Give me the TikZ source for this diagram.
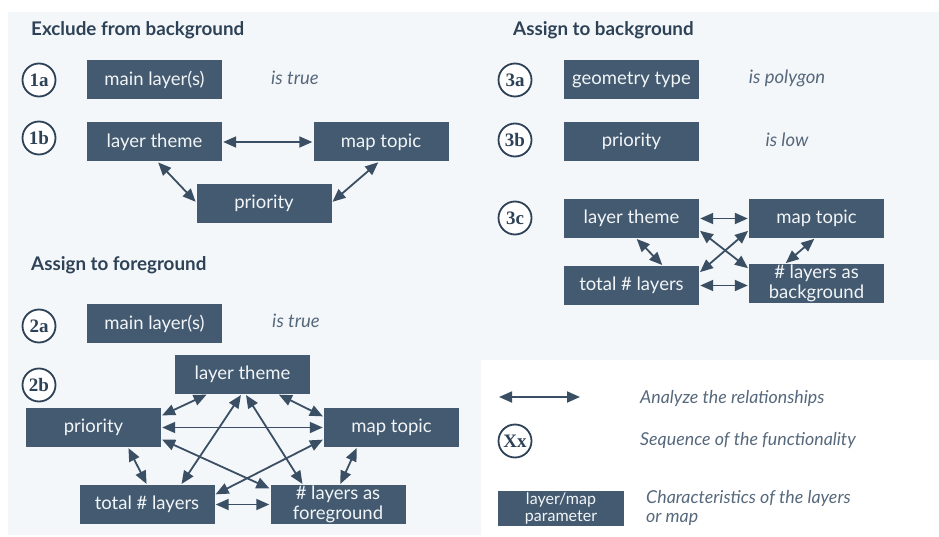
\documentclass[tikz,border=0pt]{standalone}
\usepackage{fontspec}
\setmainfont{Lato}
\newfontfamily\numfont{Liberation Serif}
\usetikzlibrary{arrows.meta,calc}

\definecolor{panel}{HTML}{F4F7F9}
\definecolor{boxfill}{HTML}{435A70}
\definecolor{boxtext}{HTML}{F2F5F7}
\definecolor{linkcol}{HTML}{3A4F63}
\definecolor{headcol}{HTML}{2E4257}
\definecolor{notecol}{HTML}{56687B}

\tikzset{
  pbox/.style={fill=boxfill, text=boxtext, minimum width=135pt, minimum height=39pt,
    inner sep=0pt, font=\fontsize{18.5}{20}\selectfont},
  twoline/.style={align=center, font=\fontsize{18.5}{21}\selectfont},
  stepnum/.style={circle, draw=headcol, line width=1.8pt, fill=white, text=headcol,
    minimum size=33pt, inner sep=0pt, font=\numfont\bfseries\fontsize{19}{20}\selectfont},
  heading/.style={anchor=west, text=headcol, inner sep=0pt,
    font=\bfseries\fontsize{18.8}{20}\selectfont},
  cond/.style={text=notecol, inner sep=0pt, font=\itshape\fontsize{18.5}{20}\selectfont},
  legtext/.style={anchor=west, text=notecol, inner sep=0pt, align=left,
    font=\itshape\fontsize{17.8}{20}\selectfont},
  link/.style={draw=linkcol, line width=1.8pt,
    {Triangle[length=13pt,width=11pt]}-{Triangle[length=13pt,width=11pt]},
    shorten <=1pt, shorten >=1pt},
}

\begin{document}
\begin{tikzpicture}[x=1pt,y=-1pt]
  \useasboundingbox (0,0) rectangle (939,537);
  % light panel behind the three groups, legend corner left white
  \fill[panel] (8,12) -- (939,12) -- (939,360) -- (481,360) -- (481,535) -- (8,535) -- cycle;

  % ---------- Exclude from background ----------
  \node[heading] (h1) at (31,30) {Exclude from background};
  \node[stepnum] (s1a) at (39,80) {1a};
  \node[pbox] (m1) at (154.5,79.5) {main layer(s)};
  \node[cond] (c1a) at (295,78) {is true};
  \node[stepnum] (s1b) at (39,138) {1b};
  \node[pbox] (lt1) at (154.5,142) {layer theme};
  \node[pbox] (mt1) at (381,142) {map topic};
  \node[pbox] (pr1) at (264,203.5) {priority};
  \draw[link] (lt1.east) -- (mt1.west);
  \draw[link] ([xshift=3pt]lt1.south) -- ([yshift=1pt]pr1.west);
  \draw[link] ([xshift=-2pt]mt1.south) -- ([yshift=1pt]pr1.east);

  % ---------- Assign to background ----------
  \node[heading] (h3) at (513,30) {Assign to background};
  \node[stepnum] (s3a) at (515,80) {3a};
  \node[pbox] (g3) at (631.5,79.5) {geometry type};
  \node[cond] (c3a) at (787,78) {is polygon};
  \node[stepnum] (s3b) at (515,140) {3b};
  \node[pbox] (p3) at (631.5,141.5) {priority};
  \node[cond] (c3b) at (787,140) {is low};
  \node[stepnum] (s3c) at (515,218) {3c};
  \node[pbox] (lt3) at (631.5,218.5) {layer theme};
  \node[pbox] (mt3) at (816.5,218.5) {map topic};
  \node[pbox] (tot3) at (631.5,285.5) {total \# layers};
  \node[pbox, twoline] (bg3) at (816.5,283.5) {\# layers as\\[-1pt]background};
  \draw[link] (lt3.east) -- (mt3.west);
  \draw[link] (tot3.east) -- (tot3.east -| bg3.west);
  \draw[link] ([xshift=4.5pt]lt3.south) -- ([xshift=31.5pt]tot3.north);
  \draw[link] ([xshift=-1.5pt]mt3.south) -- ([xshift=-31.5pt]bg3.north);
  \draw[link] ([yshift=8pt]lt3.south east) -- ([yshift=-5pt]bg3.north west);
  \draw[link] ([yshift=8pt]mt3.south west) -- ([yshift=-7pt]tot3.north east);

  % ---------- Assign to foreground ----------
  \node[heading] (h2) at (31,265) {Assign to foreground};
  \node[stepnum] (s2a) at (39,326) {2a};
  \node[pbox] (m2) at (154.5,323.5) {main layer(s)};
  \node[cond] (c2a) at (296,321) {is true};
  \node[stepnum] (s2b) at (39,385) {2b};
  \node[pbox] (lt2) at (242.5,374.5) {layer theme};
  \node[pbox] (pr2) at (93.5,427.5) {priority};
  \node[pbox] (mt2) at (391.5,427.5) {map topic};
  \node[pbox] (tot2) at (147,504.5) {total \# layers};
  \node[pbox, twoline] (fg2) at (338,504.5) {\# layers as\\[-1pt]foreground};
  \draw[link] ([yshift=-8pt]pr2.north east) -- ([xshift=-35pt]lt2.south);
  \draw[link] ([xshift=35.5pt]lt2.south) -- ([yshift=-9pt]mt2.north west);
  \draw[link] (pr2.east) -- (mt2.west);
  \draw[link] ([xshift=34.5pt]pr2.south) -- (tot2.north);
  \draw[link] ([xshift=-34.5pt]mt2.south) -- ([xshift=2pt]fg2.north);
  \draw[link] (tot2.east) -- (fg2.west);
  \draw[link] ([xshift=-1pt]lt2.south) -- ([xshift=34pt]tot2.north);
  \draw[link] ([xshift=3pt]lt2.south) -- ([xshift=-35pt]fg2.north);
  \draw[link] ([yshift=8pt]pr2.south east) -- ([yshift=-4pt]fg2.north west);
  \draw[link] ([yshift=8pt]mt2.south west) -- ([yshift=-10pt]tot2.north east);

  % ---------- Legend ----------
  \coordinate (la) at (499,397);
  \coordinate (lb) at (580,397);
  \draw[link, shorten <=0pt, shorten >=0pt] (la) -- (lb);
  \node[legtext] (t1) at (640,398) {Analyze the relationships};
  \node[stepnum] (sx) at (515,441) {Xx};
  \node[legtext] (t2) at (640,440) {Sequence of the functionality};
  \node[pbox, minimum width=126pt, minimum height=35pt, align=center,
    font=\fontsize{16}{18}\selectfont] (lg) at (561,508.5) {layer/map\\[-1pt]parameter};
  \node[legtext, font=\itshape\fontsize{17.8}{19.5}\selectfont] (t3) at (646,508)
    {Characteristics of the layers\\or map};
\end{tikzpicture}
\end{document}
